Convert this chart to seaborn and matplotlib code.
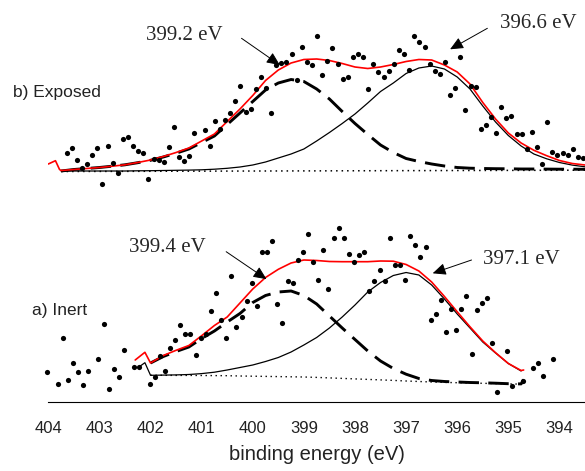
import numpy as np
import pandas as pd
import matplotlib.pyplot as plt
from matplotlib.ticker import MultipleLocator
import seaborn as sns

# raw N 1s spectra, 0.1 eV steps (arbitrary intensity units)
STEP = 0.1
EXPOSED_E0 = 403.64
INERT_E0 = 404.02
OFFSET_B = 231  # vertical shift of spectrum b)

exposed_counts = [17.7, 22.7, 11, 2.7, 7, 16, 22.7, -12.7, 25.3, 8.3,
                  -2.3, 31.7, 34.2, 25.5, 20, 17.7, -8, 11.8, 11.5, 9,
                  23.8, 43.8, 14, 10, 15.5, 38.3, None, 41, 25.5, 50.3,
                  42.5, 51.5, 58.3, 69.8, 84.8, 59.2, 61.7, 81.7, 94, 83.2,
                  58, 105.7, 108, 108.7, 117.5, 90.7, 124.3, 108.7, 105.7, 135,
                  95.7, 110.3, 122.7, 106.7, 92, 94.3, 114, 116.7, 114, 82.3,
                  106.7, 99, 94.3, 100, 107, 121, 117, 101, 135, 128.7,
                  123.7, 107, 100, 97, 109.3, 76.3, 82.7, 114.3, 61.3, 85.3,
                  84.3, 41.7, 46, 54, 37.7, 64.3, 52.7, 55, 36.7, 37,
                  22, 39, 24, 7, 49, 19, 16, 17.7, 15.7, 22,
                  13.7, 12.7]

inert_counts = [29.7, None, 18.3, 63.7, 21.7, 39.3, 29.7, 17, 31, None,
                42.7, 78.3, 13.3, 33, 24.7, 52.3, None, 34.7, 34.7, None,
                18.3, 25.3, 45.7, 31.3, 54, 62, 76.7, 68.3, 68.5, 47.5,
                64, 68, 91.5, 109.3, 82, 63.7, 126, 75.3, 84.7, 101.3,
                119.3, 96.3, 149.7, 149.7, 161.3, 98, 78.7, 121, 119.3, 142,
                149.7, 167.7, 139.7, 122.3, 151.7, 112.7, 164.3, 174.3, 164.3, 148.3,
                140, 146.7, 149.7, 111, 120.7, 131.7, 120.7, 164.3, 137, 137,
                122, 166, 157, 145.3, 154.7, 82, 88, 102, 70.3, 93,
                72, 93, 106, 47.7, 92, 99.3, 104.3, 58.7, 10, None,
                51, 16.3, None, 21.3, None, 34.3, 39.3, 26.5, None, 42.7]

# fitted curves, b) exposed
exposed_fit_e = [403.75, 403.5, 403.25, 403.0, 402.75, 402.5, 402.25, 402.0, 401.75, 401.5,
                 401.25, 401.0, 400.75, 400.5, 400.25, 400.0, 399.75, 399.5, 399.25, 399.0,
                 398.75, 398.5, 398.25, 398.0, 397.75, 397.5, 397.25, 397.0, 396.75, 396.5,
                 396.25, 396.0, 395.75, 395.5, 395.25, 395.0, 394.75, 394.5, 394.25, 394.0,
                 393.75, 393.5]
exposed_env = [0.5, 1.5, 2.5, 3.5, 4.8, 6.2, 8.5, 11, 14.5, 18.5,
               23, 30, 37, 49.5, 62, 75.5, 90.5, 101, 108, 111.5,
               112, 110.5, 107.5, 104, 102.5, 104, 106.5, 109.5, 111.5, 111,
               106, 99, 87, 68.5, 52, 38, 28, 20.7, 15.3, 10.5,
               7.5, 6]
exposed_peak1 = [0, 1.5, 2.5, 3.5, 4.8, 6.2, 8.3, 10.7, 14, 17.8,
                 22, 28.5, 35, 46.5, 58, 69.5, 81, 88, 91.5, 89.5,
                 82, 72, 59.5, 47.5, 36.5, 26, 18.5, 12.5, 9.5, 7,
                 5, 3.5, 2.8, 2.5, 2.3, 2.2, 2, 2, 1.9, 1.8,
                 1.8, 1.7]
exposed_peak2 = [0, 0, 0, 0, 0, 0, 0.2, 0.3, 0.5, 0.7,
                 0.9, 1.2, 1.8, 2.7, 4, 6, 9, 13, 17, 22,
                 30, 38.5, 47.5, 57, 68, 79.5, 88, 97.5, 103, 105,
                 102, 94, 82, 65, 49, 35.5, 25, 17, 12.2, 8.5,
                 5.9, 4.2]
exposed_env_start_e = [404.0, 403.86, 403.78]
exposed_env_start = [7, 10.3, 1.5]
exposed_bg_e = [403.75, 393.5]
exposed_bg = [-0.5, 0.8]

# fitted curves, a) inert
inert_fit_e = [402.0, 401.75, 401.5, 401.25, 401.0, 400.75, 400.5, 400.25, 400.0, 399.75,
               399.5, 399.25, 399.0, 398.75, 398.5, 398.25, 398.0, 397.75, 397.5, 397.25,
               397.0, 396.75, 396.5, 396.25, 396.0, 395.75, 395.5, 395.25, 395.0, 394.75]
inert_env = [39, 46.5, 51.7, 56.5, 66.3, 76.5, 85, 99, 113, 124.5,
             132.7, 139, 142, 141.5, 140.5, 140.3, 140.3, 140.3, 141, 140.8,
             137.5, 131, 120, 105.5, 90.2, 75.2, 61, 49.3, 38.5, 31.5]
inert_peak1 = [39, 45.5, 50.5, 55, 63.5, 71, 80, 88.5, 99.5, 106.5,
               110, 111, 106.5, 98, 86, 74, 62.5, 51, 41, 33.5,
               27.8, 23.5, 21.5, 20.5, 20, 19.5, 19.2, 18.8, 18.3, 18.1]
inert_peak2 = [26.7, 26.9, 27.1, 27.5, 28.4, 29.8, 32, 34.5, 37, 40.5,
               44.5, 50, 57, 64.5, 74, 85, 97, 110, 119.5, 126.5,
               129.5, 127, 117, 103, 88, 74, 60, 49, 38.5, 31]
inert_bg = [26.7, 26.7, 26.6, 26.6, 26.5, 26.4, 26.3, 26.0, 25.8, 25.6,
            25.4, 25.2, 25.0, 24.6, 24.1, 23.6, 23.1, 22.6, 22.1, 21.6,
            21.0, 20.5, 20.0, 19.6, 19.3, 19.0, 18.7, 18.4, 18.1, 17.9]
inert_env_start_e = [402.30, 402.11]
inert_env_start = [42, 49.7]
inert_env_end_e = [394.70]
inert_env_end = [32]
inert_peak2_start_e = [402.22, 402.11]
inert_peak2_start = [35.3, 39.3]
inert_peak1_end_e = [394.70]
inert_peak1_end = [22.5]

sns.set_style("white")
fig = plt.figure(figsize=(5.85, 4.71), dpi=100)
ax = fig.add_axes([48.3 / 585, 69 / 471, 1 - 48.3 / 585, 402 / 471])

exp_pts = pd.DataFrame({"e": EXPOSED_E0 - STEP * np.arange(len(exposed_counts)),
                        "y": pd.to_numeric(pd.Series(exposed_counts), errors="coerce") + OFFSET_B}).dropna()
ine_pts = pd.DataFrame({"e": INERT_E0 - STEP * np.arange(len(inert_counts)),
                        "y": pd.to_numeric(pd.Series(inert_counts), errors="coerce")}).dropna()

dotted = (0, (1, 2.6))
longdash = (0, (7, 3.2))


def curve(e, y, shift=0, **kw):
    sns.lineplot(x=np.array(e), y=np.array(y, dtype=float) + shift, ax=ax,
                 estimator=None, sort=False, **kw)


# b) exposed
curve(exposed_bg_e, exposed_bg, OFFSET_B, color="black", lw=1.1, linestyle=dotted)
curve(exposed_fit_e, exposed_peak1, OFFSET_B, color="black", lw=2.1, linestyle=longdash)
curve(exposed_fit_e, exposed_peak2, OFFSET_B, color="black", lw=0.9)
curve(exposed_env_start_e + exposed_fit_e, exposed_env_start + exposed_env, OFFSET_B,
      color="red", lw=1.2)

# a) inert
curve(inert_fit_e, inert_bg, color="black", lw=1.0, linestyle=dotted)
curve(inert_fit_e + inert_peak1_end_e, inert_peak1 + inert_peak1_end,
      color="black", lw=2.1, linestyle=longdash)
curve(inert_peak2_start_e + inert_fit_e, inert_peak2_start + inert_peak2, color="black", lw=0.9)
curve(inert_env_start_e + inert_fit_e + inert_env_end_e,
      inert_env_start + inert_env + inert_env_end, color="red", lw=1.2)

sns.scatterplot(data=exp_pts, x="e", y="y", ax=ax, color="black", s=14,
                linewidth=0, clip_on=False, zorder=5)
sns.scatterplot(data=ine_pts, x="e", y="y", ax=ax, color="black", s=14,
                linewidth=0, clip_on=False, zorder=5)

ax.set_xlim(404, 393.5)
ax.set_ylim(0, 402)
ax.set_yticks([])
ax.set_ylabel("")
for s in ["left", "top", "right"]:
    ax.spines[s].set_visible(False)
ax.spines["bottom"].set_color("black")
ax.spines["bottom"].set_linewidth(0.8)

ax.set_xticks(range(394, 405))
ax.xaxis.set_minor_locator(MultipleLocator(0.5))
ax.tick_params(axis="x", which="major", direction="out", length=4, width=0.8,
               pad=9.5, labelsize=12, colors="#222222")
ax.tick_params(axis="x", which="minor", direction="in", length=3.5, width=0.8,
               colors="#222222")
for lab in ax.get_xticklabels():
    lab.set_fontfamily("Liberation Sans")
ax.set_xlabel("binding energy (eV)", fontsize=14.5, family="Liberation Sans",
              color="#222222", labelpad=7)

# peak labels
serif = dict(family="Liberation Serif", fontsize=15, ha="center", va="center")
arrow = dict(arrowstyle="-|>,head_length=0.8,head_width=0.36", color="black",
             lw=0.7, shrinkA=0, shrinkB=0, mutation_scale=10)
ax.text(401.34, 366, "399.2 eV", **serif)
ax.annotate("", xy=(399.47, 337), xytext=(400.22, 363.7), arrowprops=arrow)
ax.text(394.42, 378, "396.6 eV", **serif)
ax.annotate("", xy=(396.14, 352.7), xytext=(395.41, 373.7), arrowprops=arrow)
ax.text(401.68, 155, "399.4 eV", **serif)
ax.annotate("", xy=(399.73, 122.8), xytext=(400.52, 150.3), arrowprops=arrow)
ax.text(394.75, 142, "397.1 eV", **serif)
ax.annotate("", xy=(396.48, 128.7), xytext=(395.72, 142), arrowprops=arrow)

fig.text(13 / 585, 1 - 92 / 471, "b) Exposed", family="Liberation Sans",
         fontsize=12.5, va="center", ha="left", color="#222222")
fig.text(32 / 585, 1 - 310 / 471, "a) Inert", family="Liberation Sans",
         fontsize=12.5, va="center", ha="left", color="#222222")

fig.savefig("out.png", dpi=100)
